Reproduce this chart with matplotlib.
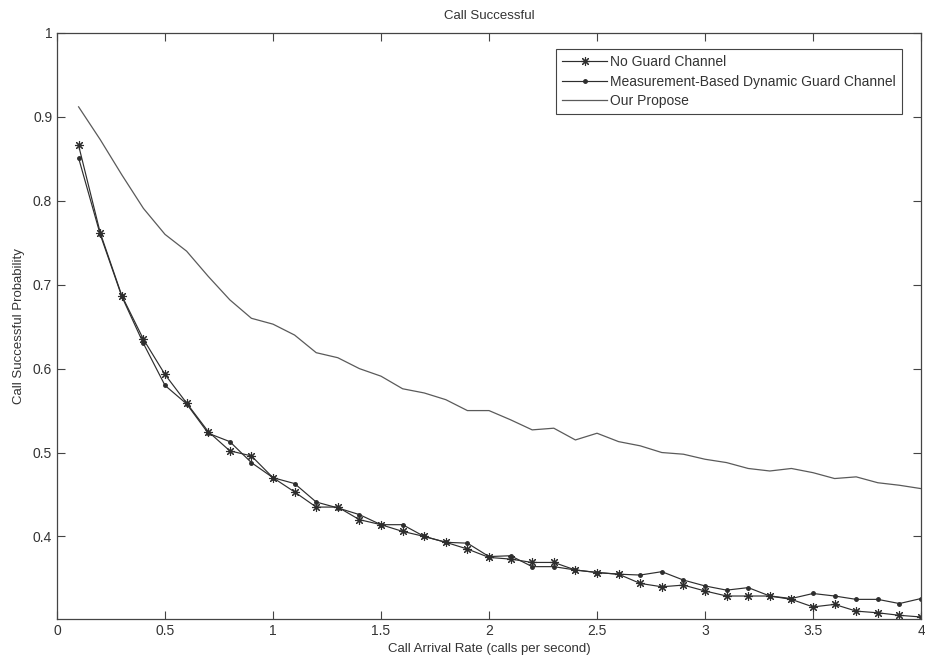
import matplotlib
matplotlib.use("Agg")
import matplotlib.pyplot as plt
import numpy as np

plt.rcParams['font.family'] = ['Liberation Sans', 'DejaVu Sans']

x_rate = [0.1, 0.2, 0.3, 0.4, 0.5, 0.6, 0.7, 0.8, 0.9, 1.0,
          1.1, 1.2, 1.3, 1.4, 1.5, 1.6, 1.7, 1.8, 1.9, 2.0,
          2.1, 2.2, 2.3, 2.4, 2.5, 2.6, 2.7, 2.8, 2.9, 3.0,
          3.1, 3.2, 3.3, 3.4, 3.5, 3.6, 3.7, 3.8, 3.9, 4.0]

no_guard = [0.866, 0.762, 0.687, 0.635, 0.593, 0.559, 0.525, 0.502, 0.496, 0.470,
            0.453, 0.435, 0.435, 0.420, 0.414, 0.406, 0.400, 0.393, 0.385, 0.375,
            0.373, 0.369, 0.369, 0.360, 0.357, 0.355, 0.344, 0.340, 0.342, 0.335,
            0.329, 0.329, 0.329, 0.325, 0.316, 0.319, 0.311, 0.309, 0.306, 0.304]

mb_dynamic = [0.851, 0.760, 0.686, 0.630, 0.580, 0.558, 0.523, 0.513, 0.488, 0.470,
              0.463, 0.441, 0.434, 0.426, 0.414, 0.414, 0.400, 0.393, 0.392, 0.376,
              0.377, 0.364, 0.364, 0.360, 0.357, 0.355, 0.354, 0.358, 0.348, 0.341,
              0.336, 0.339, 0.329, 0.326, 0.332, 0.329, 0.325, 0.325, 0.320, 0.326]

our_propose = [0.912, 0.873, 0.831, 0.791, 0.760, 0.740, 0.710, 0.682, 0.660, 0.653,
               0.640, 0.619, 0.613, 0.600, 0.591, 0.576, 0.571, 0.563, 0.550, 0.550,
               0.539, 0.527, 0.529, 0.515, 0.523, 0.513, 0.508, 0.500, 0.498, 0.492,
               0.488, 0.481, 0.478, 0.481, 0.476, 0.469, 0.471, 0.464, 0.461, 0.457]

labels = ["No Guard Channel", "Measurement-Based Dynamic Guard Channel", "Our Propose"]
x_ticks = [0, 0.5, 1, 1.5, 2, 2.5, 3, 3.5, 4]
x_ticklabels = ["0", "0.5", "1", "1.5", "2", "2.5", "3", "3.5", "4"]
y_ticks = [0.4, 0.5, 0.6, 0.7, 0.8, 0.9, 1.0]
y_ticklabels = ["0.4", "0.5", "0.6", "0.7", "0.8", "0.9", "1"]

txt = '#333333'
fig = plt.figure(figsize=(9.25, 6.6), dpi=100)
ax = fig.add_axes([57/925, 1-619/660, (921-57)/925, (619-33)/660])

ax.plot(x_rate, no_guard, color='#2e2e2e', lw=0.85, marker=(8, 2, 0), ms=6.5, mew=0.8,
        label=labels[0])
ax.plot(x_rate, mb_dynamic, color='#2e2e2e', lw=0.85, marker='.', ms=5,
        label=labels[1])
ax.plot(x_rate, our_propose, color='#5a5a5a', lw=0.9, label=labels[2])

ax.set_xlim(0, 4)
ax.set_ylim(0.3016, 1.0)
ax.set_xticks(x_ticks)
ax.set_xticklabels(x_ticklabels)
ax.set_yticks(y_ticks)
ax.set_yticklabels(y_ticklabels)
ax.tick_params(direction='in', length=6, width=0.8, top=True, right=True,
               labelsize=10, colors='#444444', labelcolor=txt)
for s in ax.spines.values():
    s.set_color('#444444')
    s.set_linewidth(0.9)

ax.set_title("Call Successful", fontsize=9.5, color=txt, pad=10)
ax.set_xlabel("Call Arrival Rate (calls per second)", fontsize=9.5, color=txt, labelpad=4)
ax.set_ylabel("Call Successful Probability", fontsize=9.5, color=txt, labelpad=6)

leg = ax.legend(loc='upper right', bbox_to_anchor=(0.978, 0.973), borderaxespad=0,
                fancybox=False, framealpha=1, edgecolor='#444444', fontsize=10,
                handlelength=3.25, labelspacing=0.4, borderpad=0.45, handletextpad=0.2,
                numpoints=1)
leg.get_frame().set_linewidth(0.8)
for t in leg.get_texts():
    t.set_color(txt)

fig.savefig("out.png", dpi=100)
